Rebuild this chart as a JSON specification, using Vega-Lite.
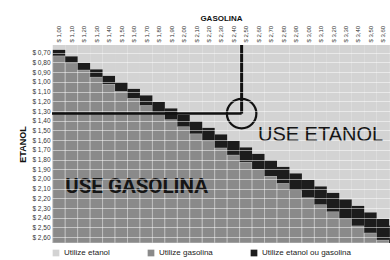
{
  "$schema": "https://vega.github.io/schema/vega-lite/v6.json",
  "width": 338,
  "height": 198,
  "autosize": "none",
  "padding": {"left": 52, "top": 45, "right": 0, "bottom": 17},
  "config": {"view": {"stroke": null}, "font": "Liberation Sans", "axis": {"labelOverlap": false, "labelFlush": false, "labelBound": false}},
  "data": {"values": [
    {"g0": 0.95, "g1": 1.05, "lo": 0.67, "hi": 0.73},
    {"g0": 1.05, "g1": 1.15, "lo": 0.737, "hi": 0.803},
    {"g0": 1.15, "g1": 1.25, "lo": 0.804, "hi": 0.876},
    {"g0": 1.25, "g1": 1.35, "lo": 0.871, "hi": 0.949},
    {"g0": 1.35, "g1": 1.45, "lo": 0.938, "hi": 1.022},
    {"g0": 1.45, "g1": 1.55, "lo": 1.005, "hi": 1.095},
    {"g0": 1.55, "g1": 1.65, "lo": 1.072, "hi": 1.168},
    {"g0": 1.65, "g1": 1.75, "lo": 1.139, "hi": 1.241},
    {"g0": 1.75, "g1": 1.85, "lo": 1.206, "hi": 1.314},
    {"g0": 1.85, "g1": 1.95, "lo": 1.273, "hi": 1.387},
    {"g0": 1.95, "g1": 2.05, "lo": 1.34, "hi": 1.46},
    {"g0": 2.05, "g1": 2.15, "lo": 1.407, "hi": 1.533},
    {"g0": 2.15, "g1": 2.25, "lo": 1.474, "hi": 1.606},
    {"g0": 2.25, "g1": 2.35, "lo": 1.541, "hi": 1.679},
    {"g0": 2.35, "g1": 2.45, "lo": 1.608, "hi": 1.752},
    {"g0": 2.45, "g1": 2.55, "lo": 1.675, "hi": 1.825},
    {"g0": 2.55, "g1": 2.65, "lo": 1.742, "hi": 1.898},
    {"g0": 2.65, "g1": 2.75, "lo": 1.809, "hi": 1.971},
    {"g0": 2.75, "g1": 2.85, "lo": 1.876, "hi": 2.044},
    {"g0": 2.85, "g1": 2.95, "lo": 1.943, "hi": 2.117},
    {"g0": 2.95, "g1": 3.05, "lo": 2.01, "hi": 2.19},
    {"g0": 3.05, "g1": 3.15, "lo": 2.077, "hi": 2.263},
    {"g0": 3.15, "g1": 3.25, "lo": 2.144, "hi": 2.336},
    {"g0": 3.25, "g1": 3.35, "lo": 2.211, "hi": 2.409},
    {"g0": 3.35, "g1": 3.45, "lo": 2.278, "hi": 2.482},
    {"g0": 3.45, "g1": 3.55, "lo": 2.345, "hi": 2.555},
    {"g0": 3.55, "g1": 3.65, "lo": 2.412, "hi": 2.628},
    {"g0": 3.65, "g1": 3.75, "lo": 2.479, "hi": 2.701}
  ]},
  "layer": [
    {
      "mark": {"type": "rect", "clip": true},
      "encoding": {
        "x": {"field": "g0", "type": "quantitative",
          "scale": {"domain": [0.944, 3.657], "nice": false, "zero": false},
          "axis": {"orient": "top", "title": "GASOLINA", "titleFontWeight": "bold", "titleFontSize": 8, "titleColor": "#111", "titlePadding": 3,
            "values": [1.0, 1.1, 1.2, 1.3, 1.4, 1.5, 1.6, 1.7, 1.8, 1.9, 2.0, 2.1, 2.2, 2.3, 2.4, 2.5, 2.6, 2.7, 2.8, 2.9, 3.0, 3.1, 3.2, 3.3, 3.4, 3.5, 3.6],
            "tickCount": 100,
            "labelExpr": "'$ ' + replace(format(datum.value, '.2f'), '.', ',')",
            "labelAngle": -90, "labelAlign": "left", "labelBaseline": "middle", "labelFontSize": 6, "labelColor": "#333", "labelPadding": 3,
            "ticks": false, "domain": false, "grid": false, "labelOverlap": false, "labelFlush": false}},
        "x2": {"field": "g1"},
        "y": {"field": "lo", "type": "quantitative",
          "scale": {"domain": [0.62, 2.66], "reverse": true, "nice": false, "zero": false},
          "axis": {"orient": "left", "title": "ETANOL", "titleFontWeight": "bold", "titleFontSize": 9, "titleColor": "#111", "titlePadding": 4,
            "values": [0.7, 0.8, 0.9, 1.0, 1.1, 1.2, 1.3, 1.4, 1.5, 1.6, 1.7, 1.8, 1.9, 2.0, 2.1, 2.2, 2.3, 2.4, 2.5, 2.6],
            "tickCount": 100,
            "labelExpr": "'$ ' + replace(format(datum.value, '.2f'), '.', ',')",
            "labelFontSize": 6.5, "labelColor": "#333", "labelPadding": 2, "ticks": false, "domain": false,
            "grid": true, "gridColor": "#ffffff", "gridOpacity": 0.5, "gridWidth": 1, "zindex": 1, "labelOverlap": false, "labelFlush": false}},
        "y2": {"datum": 0.62},
        "color": {"datum": "Utilize etanol", "type": "nominal",
          "scale": {"domain": ["Utilize etanol", "Utilize gasolina", "Utilize etanol ou gasolina"], "range": ["#d3d3d3", "#8a8a8a", "#1c1c1c"]},
          "legend": {"orient": "bottom", "direction": "horizontal", "title": null, "offset": 6, "symbolType": "square", "symbolSize": 45,
            "symbolStrokeWidth": 0, "labelFontSize": 8, "labelColor": "#222", "columnPadding": 37, "labelOffset": 4, "padding": 0}}
      }
    },
    {
      "mark": {"type": "rect", "clip": true, "stroke": "#c4c4c4", "strokeWidth": 0.8},
      "encoding": {
        "x": {"field": "g0", "type": "quantitative"},
        "x2": {"field": "g1"},
        "y": {"field": "hi", "type": "quantitative"},
        "y2": {"datum": 2.66},
        "color": {"datum": "Utilize gasolina", "type": "nominal"}
      }
    },
    {
      "mark": {"type": "rect", "clip": true},
      "encoding": {
        "x": {"field": "g0", "type": "quantitative"},
        "x2": {"field": "g1"},
        "y": {"field": "lo", "type": "quantitative"},
        "y2": {"field": "hi"},
        "color": {"datum": "Utilize etanol ou gasolina", "type": "nominal"}
      }
    },
    {
      "data": {"values": [{"gx": 2.466, "e0": 0.62, "e1": 1.327}]},
      "mark": {"type": "rule", "color": "#111", "strokeWidth": 3},
      "encoding": {
        "x": {"field": "gx", "type": "quantitative"},
        "y": {"field": "e0", "type": "quantitative"},
        "y2": {"field": "e1"}
      }
    },
    {
      "data": {"values": [{"g0": 0.944, "g1": 2.466, "ey": 1.327}]},
      "mark": {"type": "rule", "color": "#111", "strokeWidth": 2.5},
      "encoding": {
        "x": {"field": "g0", "type": "quantitative"},
        "x2": {"field": "g1"},
        "y": {"field": "ey", "type": "quantitative"}
      }
    },
    {
      "data": {"values": [{"gx": 2.466, "ey": 1.327}]},
      "mark": {"type": "point", "shape": "circle", "filled": false, "stroke": "#111", "strokeWidth": 2.2, "size": 870, "opacity": 1},
      "encoding": {
        "x": {"field": "gx", "type": "quantitative"},
        "y": {"field": "ey", "type": "quantitative"}
      }
    },
    {
      "data": {"values": [{"gx": 2.597, "ey": 1.548, "label": "USE ETANOL"}]},
      "mark": {"type": "text", "align": "left", "baseline": "middle", "fontSize": 20, "font": "Liberation Sans", "color": "#151515"},
      "encoding": {
        "x": {"field": "gx", "type": "quantitative"},
        "y": {"field": "ey", "type": "quantitative"},
        "text": {"field": "label"}
      }
    },
    {
      "data": {"values": [{"gx": 1.05, "ey": 2.08, "label": "USE GASOLINA"}]},
      "mark": {"type": "text", "align": "left", "baseline": "middle", "fontSize": 20.5, "font": "Roboto", "fontWeight": "bold", "color": "#151515"},
      "encoding": {
        "x": {"field": "gx", "type": "quantitative"},
        "y": {"field": "ey", "type": "quantitative"},
        "text": {"field": "label"}
      }
    }
  ]
}
